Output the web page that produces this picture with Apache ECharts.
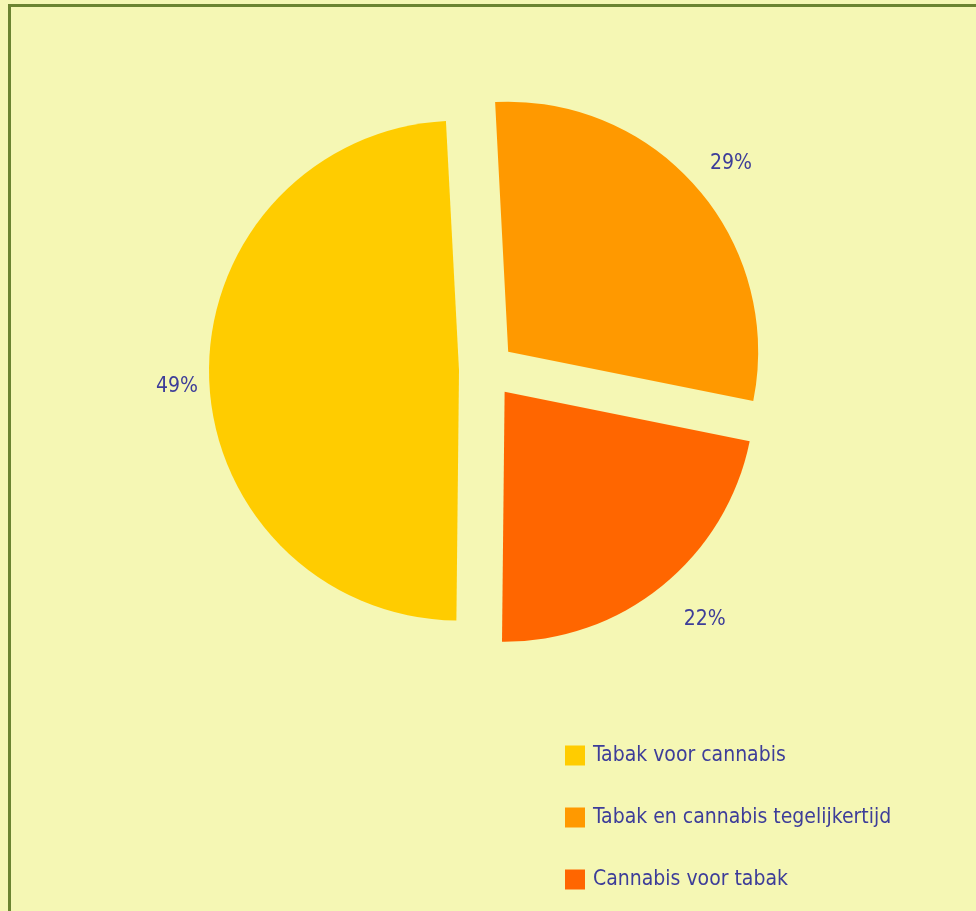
<!DOCTYPE html>
<html>
<head>
<meta charset="utf-8">
<script src="https://cdn.jsdelivr.net/npm/echarts@6/dist/echarts.min.js"></script>
<style>
    html, body { margin: 0; padding: 0; background: #f5f7b4; }
    #main { width: 976px; height: 911px; }
</style>
</head>
<body>
<div id="main"></div>
<script>
// data
let categories = ['Tabak voor cannabis', 'Tabak en cannabis tegelijkertijd', 'Cannabis voor tabak'];
let values = [49, 29, 22];
let colors = ['#ffcc00', '#ff9900', '#ff6600'];
// nudges so the labels sit where the original put them
let labelOffsets = [[12, 10], [-7, -16], [4, 23]];

let textColor = '#3d3d99';
let fontName = '"Liberation Sans Narrow", "DejaVu Sans Condensed", sans-serif';

let myChart = echarts.init(document.getElementById('main'));

let pieData = [];
for (let i = 0; i < categories.length; i++) {
    pieData.push({
        name: categories[i],
        value: values[i],
        selected: true,
        itemStyle: { color: colors[i] }
    });
}

let option = {
    backgroundColor: '#f5f7b4',
    animation: false,
    graphic: [{
        type: 'rect',
        shape: { x: 9.5, y: 5.5, width: 1000, height: 1000 },
        style: { fill: 'none', stroke: '#6b8431', lineWidth: 3 },
        silent: true
    }],
    legend: {
        orient: 'vertical',
        left: 565,
        top: 745,
        padding: 0,
        itemWidth: 20,
        itemHeight: 20,
        itemGap: 41,
        icon: 'rect',
        selectedMode: false,
        data: categories,
        textStyle: {
            color: textColor,
            fontFamily: fontName,
            fontSize: 21,
            padding: [0, 0, 0, 3]
        }
    },
    series: [{
        type: 'pie',
        center: [487, 370],
        radius: 250,
        startAngle: 269.4,
        clockwise: true,
        selectedMode: 'multiple',
        selectedOffset: 28,
        data: pieData,
        label: {
            show: true,
            position: 'outside',
            formatter: '{d}%',
            color: textColor,
            fontFamily: fontName,
            fontSize: 21
        },
        labelLine: { show: false, length: 14, length2: 4 },
        labelLayout: function (params) {
            let o = labelOffsets[params.dataIndex];
            return { dx: o[0], dy: o[1] };
        },
        emphasis: { disabled: true },
        select: { itemStyle: { borderWidth: 0 } }
    }]
};

myChart.setOption(option);
</script>
</body>
</html>
